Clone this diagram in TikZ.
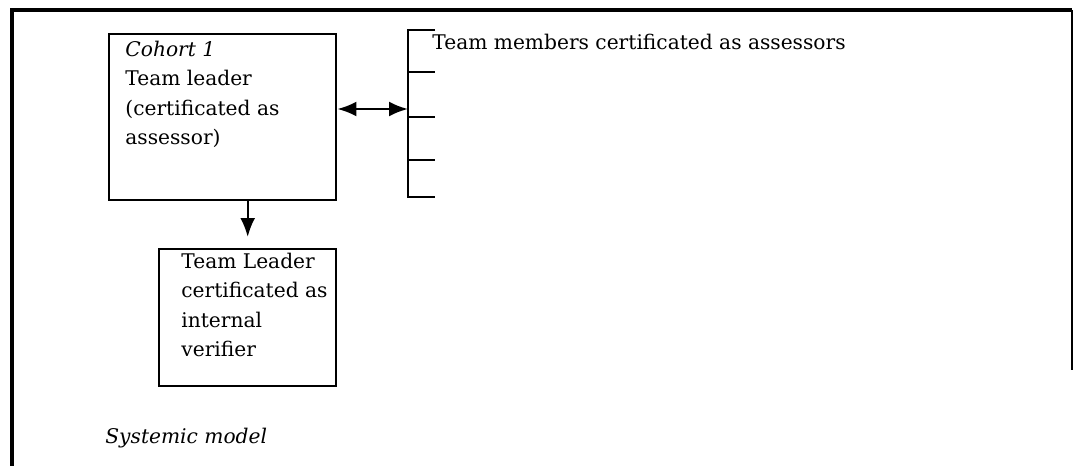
\documentclass[tikz,border=0pt]{standalone}
\usepackage{fontspec}
\setmainfont{DejaVu Serif}
\usetikzlibrary{arrows.meta}
\usetikzlibrary{positioning}
\newcommand*{\boxtextstyle}{\fontsize{10.1}{14.6}\selectfont}
\tikzset{
  framebox/.style = {draw, line width=1.2pt, inner sep=0pt, anchor=north west},
  boxtext/.style  = {font=\boxtextstyle, align=left, inner sep=0pt},
  bigtip/.style   = {line width=1.2pt, -{Latex[length=9.5pt,width=7.5pt]}},
  twotip/.style   = {line width=1.2pt, {Latex[length=9.5pt,width=7.5pt]}-{Latex[length=9.5pt,width=7.5pt]}}
}

\begin{document}
\begin{tikzpicture}[x=0.5pt, y=-0.5pt]

   \useasboundingbox (0,0) rectangle (1073,466);

   % outer frame, open at the bottom
   \draw [line width=1.6pt] (12,466) -- (12,10) -- (1072,10);
   \draw [line width=1.1pt] (1072,10) -- (1072,370);

   \node [framebox, minimum width=113.5pt, minimum height=83pt] (leader) at (108,33) {};
   \node [boxtext, anchor=north west] (leadertext) at (125,41) {
      \textit{Cohort 1}\\
      Team leader\\
      (certificated as\\
      assessor)
   };

   \node [framebox, minimum width=88.5pt, minimum height=68.5pt] (verifier) at (158,248) {};
   \node [boxtext, anchor=north west] (verifiertext) at (181,253) {
      Team Leader\\
      certificated as\\
      internal\\
      verifier
   };

   % team members bracket
   \draw [line width=1.2pt] (435,30) -- (408,30) -- (408,197) -- (435,197);
   \foreach \y in {72,117,160}
      \draw [line width=1.2pt] (408,\y) -- (435,\y);
   \node [boxtext, anchor=base west] (members) at (432,49) {Team members certificated as assessors};
   \coordinate (bracket) at (408,109);

   \draw [twotip] (leader.east |- bracket) -- (bracket);
   \draw [bigtip] (leader.south -| verifier.north) -- ([yshift=5.5pt]verifier.north);

   \node [boxtext, anchor=base west] (caption) at (105,443) {\textit{Systemic model}};

\end{tikzpicture}
\end{document}
